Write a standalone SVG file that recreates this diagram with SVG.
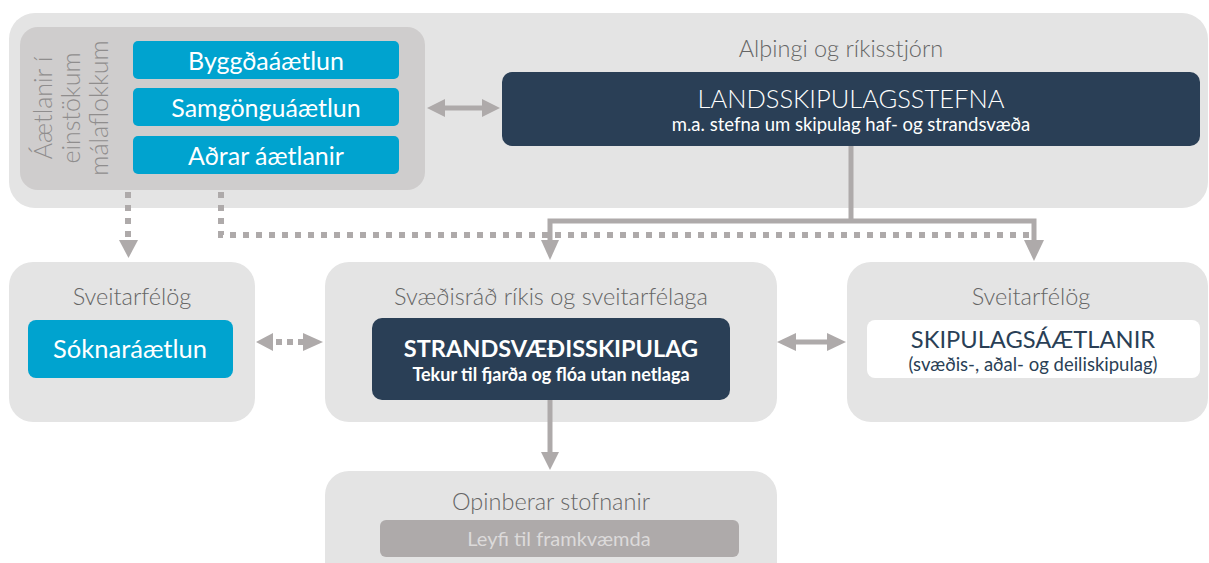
<svg xmlns="http://www.w3.org/2000/svg" width="1209" height="563" viewBox="0 0 1209 563">
<defs>
<style>
.bg{fill:#e4e4e4}
.inner{fill:#cfcdcd}
.blue{fill:#00a3cf}
.navy{fill:#2a3f56}
.title{font-family:Lato,"Liberation Sans",sans-serif;font-weight:300;font-size:23.5px;fill:#666;text-anchor:middle}
.vt{font-family:Lato,"Liberation Sans",sans-serif;font-weight:300;font-size:25px;fill:#8f8d8d;text-anchor:middle}
.wt{font-family:Lato,"Liberation Sans",sans-serif;font-size:25px;fill:#fff;text-anchor:middle}
.con{fill:none;stroke:#aeaaaa;stroke-width:5}
.dot{fill:none;stroke:#aeaaaa;stroke-width:6;stroke-dasharray:6 7}
.head{fill:#aeaaaa}
</style>
</defs>

<g id="top-area">
<rect class="bg" x="9" y="13" width="1199" height="195" rx="26"/>
<text class="title" x="841" y="57">Alþingi og ríkisstjórn</text>
</g>

<g id="aaetlanir">
<rect class="inner" x="20" y="27" width="405" height="163" rx="18"/>
<text class="vt" x="52" y="108" transform="rotate(-90 52 108)">Áætlanir í</text>
<text class="vt" x="80" y="108" transform="rotate(-90 80 108)">einstökum</text>
<text class="vt" x="108" y="108" transform="rotate(-90 108 108)">málaflokkum</text>
</g>

<g id="byggdaaaetlun">
<rect class="blue" x="133" y="41" width="266" height="38" rx="5"/>
<text class="wt" x="266" y="70">Byggðaáætlun</text>
</g>
<g id="samgonguaaetlun">
<rect class="blue" x="133" y="88" width="266" height="38" rx="5"/>
<text class="wt" x="266" y="117">Samgönguáætlun</text>
</g>
<g id="adrar-aaetlanir">
<rect class="blue" x="133" y="136" width="266" height="38" rx="5"/>
<text class="wt" x="266" y="165">Aðrar áætlanir</text>
</g>

<g id="landsskipulagsstefna">
<rect class="navy" x="502" y="72" width="698" height="74" rx="10"/>
<text x="851" y="108" style="font-family:Lato,'Liberation Sans',sans-serif;font-weight:300;font-size:25.5px;fill:#fff;text-anchor:middle">LANDSSKIPULAGSSTEFNA</text>
<text x="851" y="131" style="font-family:Lato,'Liberation Sans',sans-serif;font-size:18.5px;fill:#fff;text-anchor:middle">m.a. stefna um skipulag haf- og strandsvæða</text>
</g>

<g id="sveitarfelog-left">
<rect class="bg" x="9" y="262" width="246" height="160" rx="24"/>
<text class="title" x="132" y="305">Sveitarfélög</text>
<rect class="blue" x="28" y="320" width="205" height="58" rx="8"/>
<text class="wt" x="130" y="358" style="font-size:25.5px">Sóknaráætlun</text>
</g>

<g id="svaedisrad">
<rect class="bg" x="325" y="262" width="452" height="160" rx="24"/>
<text class="title" x="551" y="305">Svæðisráð ríkis og sveitarfélaga</text>
<rect class="navy" x="372" y="318" width="358" height="82" rx="10"/>
<text x="551" y="357" style="font-family:Lato,'Liberation Sans',sans-serif;font-weight:bold;font-size:23.5px;fill:#fff;text-anchor:middle">STRANDSVÆÐISSKIPULAG</text>
<text x="551" y="381" style="font-family:Lato,'Liberation Sans',sans-serif;font-weight:bold;font-size:18px;fill:#fff;text-anchor:middle">Tekur til fjarða og flóa utan netlaga</text>
</g>

<g id="sveitarfelog-right">
<rect class="bg" x="847" y="262" width="361" height="160" rx="24"/>
<text class="title" x="1031" y="305">Sveitarfélög</text>
<rect x="867" y="320" width="333" height="58" rx="8" fill="#fff"/>
<text x="1033" y="348" style="font-family:Lato,'Liberation Sans',sans-serif;font-size:23.7px;fill:#2a3f56;text-anchor:middle">SKIPULAGSÁÆTLANIR</text>
<text x="1033" y="371" style="font-family:Lato,'Liberation Sans',sans-serif;font-size:18.5px;fill:#2a3f56;text-anchor:middle">(svæðis-, aðal- og deiliskipulag)</text>
</g>

<g id="opinberar-stofnanir">
<rect class="bg" x="325" y="471" width="452" height="130" rx="24"/>
<text class="title" x="551" y="510">Opinberar stofnanir</text>
<rect x="380" y="520" width="359" height="37" rx="6" fill="#aeaaaa"/>
<text x="559" y="546" style="font-family:Lato,'Liberation Sans',sans-serif;font-size:20px;fill:#dcdada;text-anchor:middle">Leyfi til framkvæmda</text>
</g>

<g id="connectors">
<path class="dot" d="M128 192 V240"/>
<polygon class="head" points="119,240 138,240 128.5,258"/>
<path class="dot" d="M221 192 V235 H1030"/>
<path class="con" d="M851 146 V221"/>
<path class="con" d="M550 242 V221 H1034 V242"/>
<polygon class="head" points="541,240 559,240 550,260"/>
<polygon class="head" points="1024,240 1044,240 1034,261"/>
<path class="con" d="M440 108 H488"/>
<polygon class="head" points="427,108 445,99 445,117"/>
<polygon class="head" points="500,108 482,99 482,117"/>
<polygon class="head" points="256,342 273,333 273,351"/>
<polygon class="head" points="323,342 303,333 303,351"/>
<rect class="head" x="276" y="339" width="6" height="6"/>
<rect class="head" x="287" y="339" width="6" height="6"/>
<rect class="head" x="298" y="339" width="6" height="6"/>
<path class="con" d="M790 342 H833"/>
<polygon class="head" points="777,342 796,333 796,351"/>
<polygon class="head" points="846,342 827,333 827,351"/>
<path class="con" d="M550 400 V455"/>
<polygon class="head" points="541,452 559,452 550,470"/>
</g>
</svg>
